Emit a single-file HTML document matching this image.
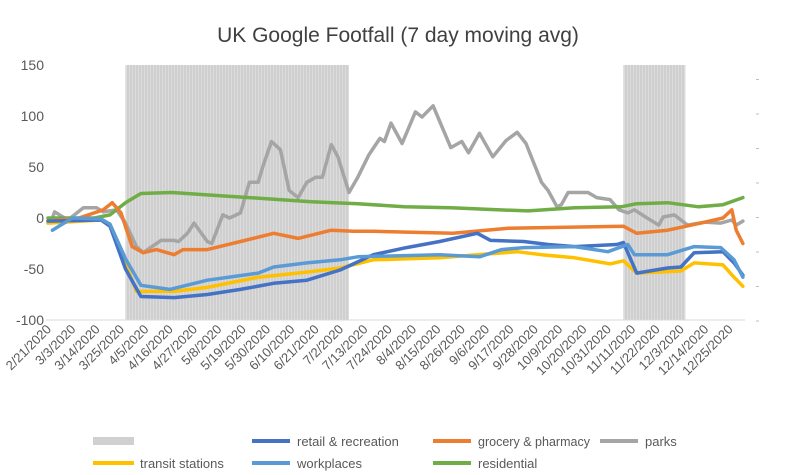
<!DOCTYPE html>
<html><head><meta charset="utf-8"><style>
html,body{margin:0;padding:0;background:#fff;}
svg{display:block;font-family:"Liberation Sans",sans-serif;}
</style></head><body>
<svg id="chart" width="795" height="475" viewBox="0 0 795 475" xmlns="http://www.w3.org/2000/svg">
<defs>
<pattern id="stripes" patternUnits="userSpaceOnUse" width="3" height="10">
<rect width="3" height="10" fill="#cfcfcf"/><rect width="1" height="10" fill="#dcdcdc"/>
</pattern>
</defs>
<text x="398" y="42" text-anchor="middle" font-size="21" fill="#404040">UK Google Footfall (7 day moving avg)</text>
<g id="shade"></g>
<g id="axes"></g>
<g id="lines"></g>
<g id="legend" font-size="13" fill="#595959">
<rect x="93" y="437" width="41" height="8" fill="#d0d0d0"/>
<line x1="252" y1="441" x2="290" y2="441" stroke="#4472c4" stroke-width="4"/>
<text x="297" y="446">retail &amp; recreation</text>
<line x1="433" y1="441" x2="471" y2="441" stroke="#ed7d31" stroke-width="4"/>
<text x="478" y="446" textLength="112" lengthAdjust="spacingAndGlyphs">grocery &amp; pharmacy</text>
<line x1="600" y1="441" x2="638" y2="441" stroke="#a5a5a5" stroke-width="4"/>
<text x="645" y="446">parks</text>
<line x1="93" y1="463" x2="134" y2="463" stroke="#ffc000" stroke-width="4"/>
<text x="140" y="468">transit stations</text>
<line x1="252" y1="463" x2="290" y2="463" stroke="#5b9bd5" stroke-width="4"/>
<text x="297" y="468">workplaces</text>
<line x1="433" y1="463" x2="471" y2="463" stroke="#70ad47" stroke-width="4"/>
<text x="478" y="468">residential</text>
</g>
</svg>
<script>
const yTicks = [150, 100, 50, 0, -50, -100];
const lockdowns = [[35, 136], [260, 288]];
const xLabels = ["2/21/2020","3/3/2020","3/14/2020","3/25/2020","4/5/2020","4/16/2020","4/27/2020","5/8/2020","5/19/2020","5/30/2020","6/10/2020","6/21/2020","7/2/2020","7/13/2020","7/24/2020","8/4/2020","8/15/2020","8/26/2020","9/6/2020","9/17/2020","9/28/2020","10/9/2020","10/20/2020","10/31/2020","11/11/2020","11/22/2020","12/3/2020","12/14/2020","12/25/2020"];
const parksDays = [2,3,9,16,22,25,31,35,40,43,51,57,59,63,66,72,74,79,82,87,91,95,97,101,105,109,113,117,121,124,128,131,136,140,145,150,152,155,160,166,169,174,182,187,190,195,201,207,212,216,223,226,230,232,235,244,248,254,258,262,265,270,276,278,283,289,297,304,309,311,314];
const parksVals = [0,6,-2,10,10,6,8,-5,-28,-34,-22,-22,-23,-15,-5,-23,-25,3,0,5,35,35,50,75,67,27,20,35,40,40,72,60,25,40,62,78,75,93,73,104,99,110,69,75,64,83,60,76,84,73,35,27,11,13,25,25,20,18,8,5,8,1,-7,1,3,-7,-4,-5,-2,-7,-3];
const retailDays = [0,24,28,35,42,57,72,87,102,117,132,147,162,177,194,200,215,226,238,257,260,266,280,286,292,305,310,314];
const retailVals = [-3,-2,-8,-50,-77,-78,-75,-70,-64,-61,-51,-36,-29,-23,-15,-22,-23,-26,-28,-26,-24,-54,-49,-48,-34,-33,-44,-56];
const groceryDays = [0,14,25,29,33,38,43,49,57,61,72,87,102,113,128,138,147,183,208,260,266,280,295,305,309,311,314];
const groceryVals = [-3,0,8,15,5,-28,-34,-31,-36,-31,-31,-23,-15,-20,-12,-13,-13,-15,-10,-8,-15,-12,-5,0,8,-12,-25];
const transitDays = [0,24,28,35,40,57,72,95,117,132,147,177,194,212,223,238,254,260,266,286,292,305,310,314];
const transitVals = [-5,-2,-8,-45,-72,-72,-68,-58,-53,-49,-41,-39,-36,-33,-36,-39,-45,-42,-54,-52,-44,-46,-58,-67];
const workDays = [2,11,24,28,35,42,55,72,95,102,117,132,140,177,195,205,215,238,253,262,265,280,292,304,310,314];
const workVals = [-12,0,-1,-6,-40,-66,-70,-61,-54,-48,-44,-41,-38,-36,-38,-31,-29,-28,-33,-26,-36,-36,-28,-29,-41,-58];
const resDays = [0,21,28,35,42,56,77,98,119,140,161,182,203,217,238,259,266,280,294,305,314];
const resVals = [0,0,3,15,24,25,22,19,16,14,11,10,8,7,10,11,14,15,11,13,20];

const NS = "http://www.w3.org/2000/svg";
const X0 = 48, XPD = 2.213, Y0 = 218, YPU = 1.02;
const xs = d => X0 + d * XPD;
const ys = v => Y0 - v * YPU;
function mk(tag, attrs, parent) { const e = document.createElementNS(NS, tag); for (const k in attrs) e.setAttribute(k, attrs[k]); parent.appendChild(e); return e; }

const shade = document.getElementById('shade');
lockdowns.forEach((l, i) => {
  const r = mk('rect', {x: xs(l[0]), y: ys(150), width: xs(l[1]) - xs(l[0]), height: ys(-100) - ys(150), fill: 'url(#stripes)'}, shade);
  
  
});

const axes = document.getElementById('axes');
const base = mk('line', {x1: 46, x2: 745, y1: ys(-100), y2: ys(-100), stroke: '#d9d9d9', 'stroke-width': 1}, axes);


yTicks.forEach(v => {
  const t = mk('text', {x: 44, y: ys(v) + 5, 'text-anchor': 'end', 'font-size': 14, fill: '#595959'}, axes);
  t.textContent = v;
  
  
});
for (let k = 0; k < 8; k++) {
  const yy = 321 - k * 34.5;
  const m = mk('line', {x1: 756, x2: 759, y1: yy, y2: yy, stroke: '#bfbfbf', 'stroke-width': 1}, axes);
  
  
}
xLabels.forEach((s, i) => {
  const x = xs(i * 11) + 4, y = 330;
  const t = mk('text', {x: x, y: y, 'text-anchor': 'end', 'font-size': 13, fill: '#595959', transform: `rotate(-45 ${x} ${y})`}, axes);
  t.textContent = s;
  
  
});

const lines = document.getElementById('lines');
const series = [
  ['parks-line', parksDays, parksVals, '#a5a5a5'],
  ['residential-line', resDays, resVals, '#70ad47'],
  ['grocery-line', groceryDays, groceryVals, '#ed7d31'],
  ['transit-line', transitDays, transitVals, '#ffc000'],
  ['retail-line', retailDays, retailVals, '#4472c4'],
  ['workplaces-line', workDays, workVals, '#5b9bd5']
];
series.forEach(s => {
  const pts = s[1].map((d, i) => xs(d).toFixed(1) + ',' + ys(s[2][i]).toFixed(1)).join(' ');
  const p = mk('polyline', {points: pts, fill: 'none', stroke: s[3], 'stroke-width': 3.5, 'stroke-linejoin': 'round', 'stroke-linecap': 'round'}, lines);
  
  
});
</script>
</body></html>
